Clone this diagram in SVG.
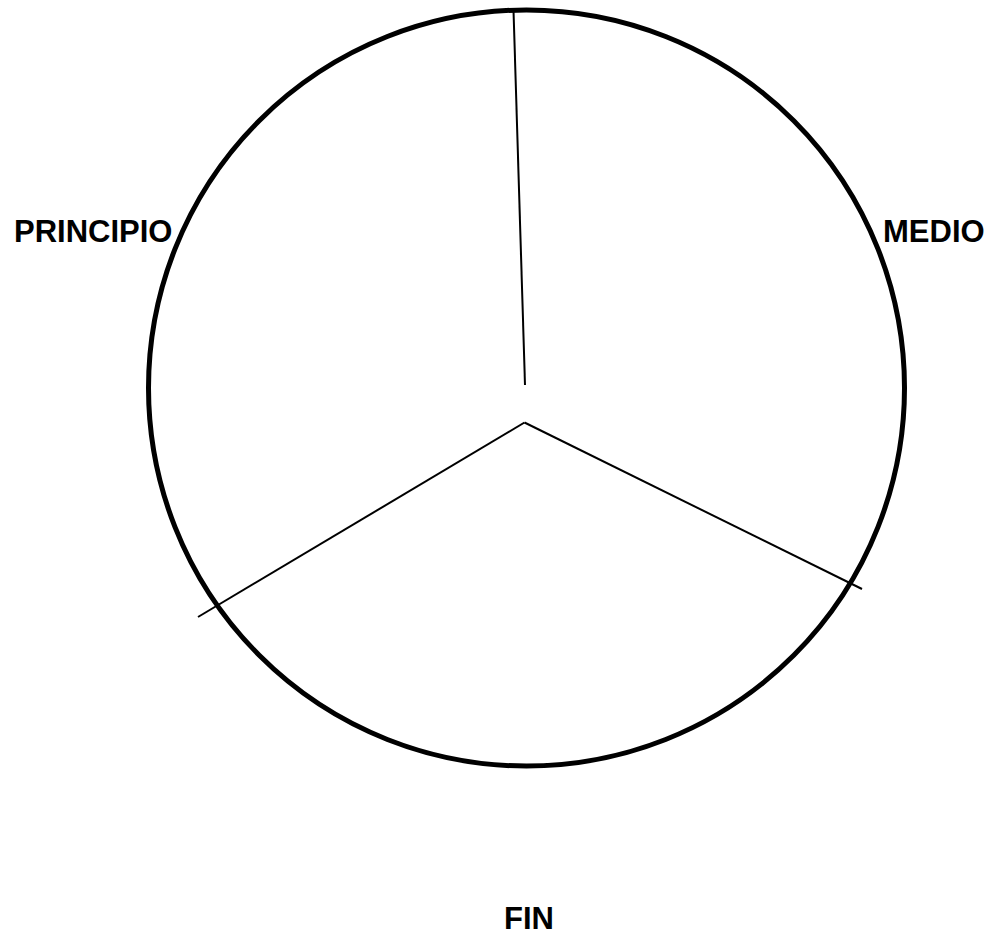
<svg xmlns="http://www.w3.org/2000/svg" width="1001" height="941" viewBox="0 0 1001 941">
<style>
.lbl{font-family:"Liberation Sans",Arial,sans-serif;font-weight:bold;font-size:31px;fill:#000}
.div{stroke:#000;stroke-width:2;fill:none}
</style>
<rect width="1001" height="941" fill="#fff"/>
<g id="circle"><circle cx="526.5" cy="388" r="378" fill="none" stroke="#000" stroke-width="5"/></g>
<g id="connectors">
<line class="div" x1="513.5" y1="10" x2="525" y2="385"/>
<line class="div" x1="524.5" y1="422.5" x2="862" y2="589"/>
<line class="div" x1="524.5" y1="422.5" x2="198" y2="617"/>
</g>
<g id="principio"><text class="lbl" x="14" y="242">PRINCIPIO</text></g>
<g id="medio"><text class="lbl" x="883" y="242">MEDIO</text></g>
<g id="fin"><text class="lbl" x="504" y="929">FIN</text></g>
</svg>
